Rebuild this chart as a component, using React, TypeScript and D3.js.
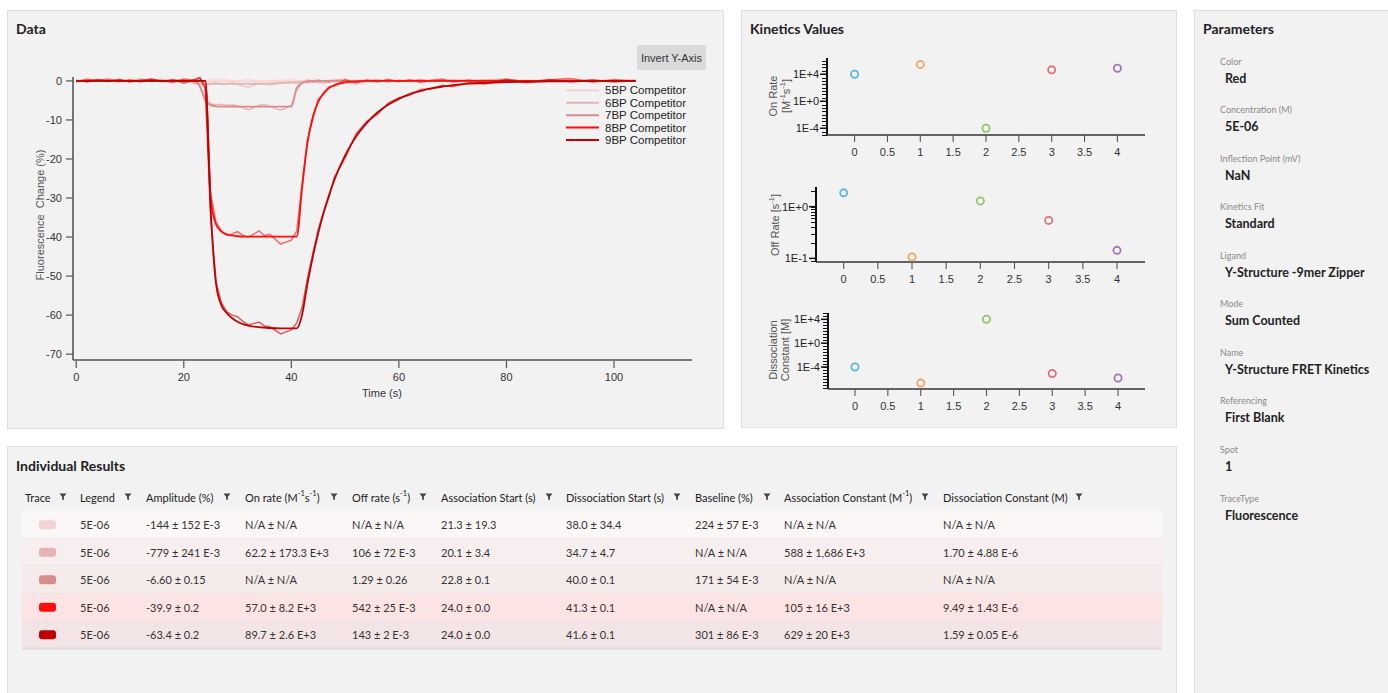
import React, { useEffect } from "react";
import * as d3 from "d3";

// ---------- Data panel: shared time base (s) and traces (% change)
const TIME = [0, 2, 4, 6, 8, 10, 12, 14, 16, 18, 20, 22, 23, 24, 25, 26, 27, 28, 29, 30, 31, 32, 34, 35, 36, 38, 40, 41, 42, 43, 44, 45, 46, 47, 48, 50, 52, 54, 56, 58, 60, 62, 64, 66, 68, 70, 73, 76, 80, 84, 88, 92, 96, 100, 104];

const TRACE_NAMES = ["5BP Competitor", "6BP Competitor", "7BP Competitor", "8BP Competitor", "9BP Competitor"];
const TRACE_COLORS = ["#f2d4d4", "#e6b3b3", "#d88c8c", "#ff0d0d", "#c00000"];

const RAW_5BP = [0.3, -0.2, 0.5, 0.1, -0.3, 0.4, 0.2, -0.1, 0.6, 0.0, 0.3, 0.2, 0.5, 0.1, 0.4, 0.2, 0.6, 0.3, 0.1, -0.2, 0.2, 0.4, 0.0, -0.3, 0.2, 0.1, 0.4, 0.2, -0.1, 0.3, 0.5, 0.1, -0.2, 0.3, 0.4, -0.1, 0.2, 0.5, 0.0, 0.3, -0.2, 0.4, 0.1, 0.3, -0.3, 0.2, 0.5, 0.0, 0.3, -0.2, 0.4, 0.1, 0.3, -0.1, 0.2];
const FIT_5BP = [0, 0, 0, 0, 0, 0, 0, 0, 0, 0, 0, -0.1, -0.12, -0.14, -0.14, -0.14, -0.14, -0.14, -0.14, -0.14, -0.14, -0.14, -0.14, -0.14, -0.14, -0.14, -0.05, -0.02, 0, 0, 0, 0, 0, 0, 0, 0, 0, 0, 0, 0, 0, 0, 0, 0, 0, 0, 0, 0, 0, 0, 0, 0, 0, 0, 0];

const RAW_6BP = [-0.1, 0.4, 0.2, -0.3, 0.3, 0.1, 0.5, -0.2, 0.2, 0.4, -0.1, -0.5, -0.9, -0.6, -0.8, -0.4, -0.9, -0.7, -0.5, -0.9, -1.3, -1.6, -0.6, -0.8, -1.1, -0.5, -0.3, -0.6, -0.2, -0.5, -0.1, -0.4, -0.7, -0.2, 0.1, -0.4, -0.8, -0.2, 0.2, -0.3, 0.1, -0.2, 0.3, -0.1, 0.2, -0.3, 0.1, 0.3, -0.2, 0.2, 0.0, 0.3, -0.2, 0.1, 0.2];
const FIT_6BP = [0, 0, 0, 0, 0, 0, 0, 0, 0, 0, 0, -0.6, -0.7, -0.75, -0.78, -0.78, -0.78, -0.78, -0.78, -0.78, -0.78, -0.78, -0.78, -0.76, -0.68, -0.55, -0.45, -0.4, -0.36, -0.33, -0.29, -0.26, -0.23, -0.21, -0.19, -0.15, -0.12, -0.1, -0.08, -0.06, -0.05, -0.04, -0.03, -0.02, 0, 0, 0, 0, 0, 0, 0, 0, 0, 0, 0];

const RAW_7BP = [0.2, -0.3, 0.4, 0.0, 0.3, -0.2, 0.5, 0.1, -0.1, 0.3, 0.2, -0.2, -1.2, -4.6, -5.9, -6.1, -6.0, -6.3, -6.1, -6.4, -6.9, -7.4, -6.3, -6.0, -6.6, -7.5, -6.3, -2.4, -0.6, 0.2, -0.3, 0.3, 0.0, -0.4, 0.2, 0.4, -0.2, 0.1, 0.3, -0.3, 0.2, 0.0, 0.4, -0.2, 0.1, 0.3, -0.1, 0.2, 0.5, -0.3, 0.1, 0.2, -0.2, 0.4, 0.0];
const FIT_7BP = [0, 0, 0, 0, 0, 0, 0, 0, 0, 0, 0, 0, -1.5, -5.0, -6.2, -6.5, -6.6, -6.6, -6.6, -6.6, -6.6, -6.6, -6.6, -6.6, -6.6, -6.6, -6.6, -1.8, -0.5, -0.1, 0, 0, 0, 0, 0, 0, 0, 0, 0, 0, 0, 0, 0, 0, 0, 0, 0, 0, 0, 0, 0, 0, 0, 0, 0];

const RAW_8BP = [-0.2, 0.4, 0.1, 0.5, -0.2, 0.3, -0.3, 0.4, 0.1, -0.4, 0.5, 0.2, 0.6, -1.5, -29, -36.2, -38.4, -39.5, -39.2, -38.6, -39.6, -40.0, -38.4, -39.6, -39.3, -41.8, -40.8, -38.5, -26.5, -15.0, -9.8, -4.6, -3.5, -1.5, -1.3, 0.3, -0.5, 0.2, -0.3, 0.4, -0.2, 0.3, -0.4, 0.2, 0.5, -0.3, 0.2, -0.5, 0.4, -0.2, 0.3, 0.6, -0.3, 0.2, -0.1];
const FIT_8BP = [0, 0, 0, 0, 0, 0, 0, 0, 0, 0, 0, 0, 0, 0, -30, -36.8, -38.6, -39.3, -39.6, -39.8, -39.9, -39.9, -39.9, -39.9, -39.9, -39.9, -39.9, -39.9, -27.3, -15.9, -9.2, -5.4, -3.1, -1.8, -1.1, -0.4, -0.1, 0, 0, 0, 0, 0, 0, 0, 0, 0, 0, 0, 0, 0, 0, 0, 0, 0, 0];

const RAW_9BP = [0.1, -0.2, 0.3, -0.1, 0.4, -0.3, 0.2, 0.5, -0.2, 0.3, -0.6, 0.4, 0.9, -2.0, -35, -51.5, -56.8, -59.2, -60.0, -60.4, -61.6, -62.5, -61.8, -62.8, -63.0, -64.8, -63.8, -62.0, -58.0, -50.5, -44.2, -38.0, -33.5, -29.8, -24.6, -19.8, -13.6, -10.4, -8.6, -5.7, -4.3, -3.7, -2.2, -2.1, -1.1, -1.5, -0.4, -0.8, 0.2, -0.5, 0.3, -0.2, 0.3, -0.3, 0.1];
const FIT_9BP = [0, 0, 0, 0, 0, 0, 0, 0, 0, 0, 0, 0, 0, 0, -33, -52, -57.5, -59.5, -60.8, -61.7, -62.3, -62.7, -63.1, -63.2, -63.3, -63.4, -63.4, -63.4, -59.9, -51.9, -45.0, -39.0, -33.8, -29.3, -25.4, -19.1, -14.3, -10.8, -8.1, -6.1, -4.6, -3.4, -2.6, -1.9, -1.5, -1.1, -0.7, -0.5, -0.3, -0.2, -0.1, -0.1, 0, 0, 0];

const RAW_TRACES = [RAW_5BP, RAW_6BP, RAW_7BP, RAW_8BP, RAW_9BP];
const FIT_TRACES = [FIT_5BP, FIT_6BP, FIT_7BP, FIT_8BP, FIT_9BP];

const DATA_Y_TICKS = [0, -10, -20, -30, -40, -50, -60, -70];
const DATA_X_TICKS = [0, 20, 40, 60, 80, 100];

// ---------- Kinetics values
const KIN_INDEX = [0, 1, 2, 3, 4];
const KIN_COLORS = ["#55b8ea", "#f5a45e", "#8cc765", "#e46f78", "#a673b6"];
const ON_RATE = [1.0e4, 2.8e5, 1e-4, 4.4e4, 7.7e4];
const OFF_RATE = [1.85, 0.106, 1.29, 0.542, 0.143];
const DISS_CONST = [1e-4, 2e-7, 1e4, 8e-6, 1.4e-6];
const KIN_X_TICKS = [0, 0.5, 1, 1.5, 2, 2.5, 3, 3.5, 4];

// ---------- Parameters
const PARAM_LABELS = ["Color", "Concentration (M)", "Inflection Point (mV)", "Kinetics Fit", "Ligand", "Mode", "Name", "Referencing", "Spot", "TraceType"];
const PARAM_VALUES = ["Red", "5E-06", "NaN", "Standard", "Y-Structure -9mer Zipper", "Sum Counted", "Y-Structure FRET Kinetics", "First Blank", "1", "Fluorescence"];

// ---------- Individual results table
type Seg = [string, boolean];
const COLUMN_TITLES: Seg[][] = [
  [["Trace", false]],
  [["Legend", false]],
  [["Amplitude (%)", false]],
  [["On rate (M", false], ["-1", true], ["s", false], ["-1", true], [")", false]],
  [["Off rate (s", false], ["-1", true], [")", false]],
  [["Association Start (s)", false]],
  [["Dissociation Start (s)", false]],
  [["Baseline (%)", false]],
  [["Association Constant (M", false], ["-1", true], [")", false]],
  [["Dissociation Constant (M)", false]],
];
const LEGEND_COL = ["5E-06", "5E-06", "5E-06", "5E-06", "5E-06"];
const AMPLITUDE = ["-144 ± 152 E-3", "-779 ± 241 E-3", "-6.60 ± 0.15", "-39.9 ± 0.2", "-63.4 ± 0.2"];
const ON_RATE_TXT = ["N/A ± N/A", "62.2 ± 173.3 E+3", "N/A ± N/A", "57.0 ± 8.2 E+3", "89.7 ± 2.6 E+3"];
const OFF_RATE_TXT = ["N/A ± N/A", "106 ± 72 E-3", "1.29 ± 0.26", "542 ± 25 E-3", "143 ± 2 E-3"];
const ASSOC_START = ["21.3 ± 19.3", "20.1 ± 3.4", "22.8 ± 0.1", "24.0 ± 0.0", "24.0 ± 0.0"];
const DISSOC_START = ["38.0 ± 34.4", "34.7 ± 4.7", "40.0 ± 0.1", "41.3 ± 0.1", "41.6 ± 0.1"];
const BASELINE = ["224 ± 57 E-3", "N/A ± N/A", "171 ± 54 E-3", "N/A ± N/A", "301 ± 86 E-3"];
const ASSOC_CONST = ["N/A ± N/A", "588 ± 1,686 E+3", "N/A ± N/A", "105 ± 16 E+3", "629 ± 20 E+3"];
const DISSOC_CONST = ["N/A ± N/A", "1.70 ± 4.88 E-6", "N/A ± N/A", "9.49 ± 1.43 E-6", "1.59 ± 0.05 E-6"];
const ROW_BG = ["#fbf7f7", "#f7efef", "#f5ebeb", "#fde4e4", "#f3e5e5"];

const UI = "Lato, 'Open Sans', sans-serif";
const PLOT = "'Liberation Sans', Arial, sans-serif";

const supSpans = (parts: Seg[], size: number) => {
  let raised = false;
  return parts.map(([t, sup], i) => {
    let dy = 0;
    if (sup && !raised) { dy = -size * 0.4; raised = true; }
    else if (!sup && raised) { dy = size * 0.4; raised = false; }
    return <tspan key={i} dy={dy} fontSize={sup ? size * 0.68 : size}>{t}</tspan>;
  });
};

const funnel = (cx: number, cy: number) =>
  `M${cx - 3.5},${cy - 3.5} h7 l-2.6,3.2 v3.6 l-1.8,-1 v-2.6 z`;

const logLabel = (v: number) => {
  const e = Math.round(Math.log10(v));
  return `1E${e >= 0 ? "+" : ""}${e}`;
};

const Panel = ({ x, y, w, h }: { x: number; y: number; w: number; h: number }) => (
  <rect x={x + 0.5} y={y + 0.5} width={w} height={h} fill="#f2f2f2" stroke="#dedede" />
);

const DataChart = () => {
  const x = d3.scaleLinear().domain([-0.6, 114.5]).range([73, 692]);
  const y = d3.scaleLinear().domain([-71.5, 1]).range([360, 77]);
  const raw = d3.line<number>().x((_, i) => x(TIME[i])).y(d => y(d));
  const fit = d3.line<number>().x((_, i) => x(TIME[i])).y(d => y(d)).curve(d3.curveMonotoneX);
  const legendY = d3.scalePoint<string>().domain(TRACE_NAMES).range([90.3, 140]);
  return (
    <g>
      <text x={16} y={28} fontFamily={UI} fontSize={14} fontWeight={700} fill="#222" dominantBaseline="central">Data</text>
      {/* axes */}
      <line x1={73} x2={73} y1={77} y2={360} stroke="#555" strokeWidth={1.6} />
      <line x1={73} x2={692} y1={360} y2={360} stroke="#555" strokeWidth={1.6} />
      {DATA_Y_TICKS.map(t => (
        <g key={t}>
          <line x1={66} x2={73} y1={y(t)} y2={y(t)} stroke="#555" strokeWidth={1.2} />
          <text x={62} y={y(t)} textAnchor="end" dominantBaseline="central" fontFamily={PLOT} fontSize={11} fill="#333">{t}</text>
        </g>
      ))}
      {DATA_X_TICKS.map(t => (
        <g key={t}>
          <line x1={x(t)} x2={x(t)} y1={361} y2={368} stroke="#555" strokeWidth={1.2} />
          <text x={x(t)} y={377} textAnchor="middle" dominantBaseline="central" fontFamily={PLOT} fontSize={11} fill="#333">{t}</text>
        </g>
      ))}
      <text x={382} y={393} textAnchor="middle" dominantBaseline="central" fontFamily={PLOT} fontSize={11} fill="#333">Time (s)</text>
      <text transform="translate(40,215) rotate(-90)" textAnchor="middle" dominantBaseline="central" fontFamily={PLOT} fontSize={11} fill="#555" xmlSpace="preserve">Fluorescence  Change (%)</text>
      {/* traces */}
      {RAW_TRACES.map((r, i) => (
        <g key={i}>
          <path d={raw(r) || ""} fill="none" stroke={TRACE_COLORS[i]} strokeOpacity={0.6} strokeWidth={1.5} />
          <path d={fit(FIT_TRACES[i]) || ""} fill="none" stroke={TRACE_COLORS[i]} strokeWidth={1.8} />
        </g>
      ))}
      {/* button */}
      <rect x={637} y={45} width={69} height={25} fill="#dadada" />
      <text x={671.5} y={58} textAnchor="middle" dominantBaseline="central" fontFamily={PLOT} fontSize={11} fill="#333">Invert Y-Axis</text>
      {/* legend */}
      {TRACE_NAMES.map((n, i) => (
        <g key={n}>
          <line x1={566} x2={599} y1={legendY(n)} y2={legendY(n)} stroke={TRACE_COLORS[i]} strokeWidth={2} />
          <text x={605} y={legendY(n)} dominantBaseline="central" fontFamily={PLOT} fontSize={11.5} fill="#222">{n}</text>
        </g>
      ))}
    </g>
  );
};

type KinCfg = {
  values: number[]; x0: number; xDomain: [number, number]; yTop: number; yBot: number;
  yDomain: [number, number]; labels: number[]; minor: "half" | "log";
  title: Seg[][]; titleX: number[]; titleY: number;
};

const KIN_PANELS: KinCfg[] = [
  {
    values: ON_RATE, x0: 827, xDomain: [-0.42, 4.42], yTop: 58, yBot: 135,
    yDomain: [1e-5, Math.pow(10, 6.4)], labels: [1e4, 1, 1e-4], minor: "half",
    title: [[["On Rate", false]], [["[M", false], ["-1", true], ["s", false], ["-1", true], ["]", false]]],
    titleX: [773, 786], titleY: 96,
  },
  {
    values: OFF_RATE, x0: 816, xDomain: [-0.405, 4.41], yTop: 187, yBot: 262,
    yDomain: [Math.pow(10, -1.07), Math.pow(10, 0.38)], labels: [1, 0.1], minor: "log",
    title: [[["Off Rate [s", false], ["-1", true], ["]", false]]],
    titleX: [775], titleY: 225,
  },
  {
    values: DISS_CONST, x0: 828, xDomain: [-0.41, 4.41], yTop: 313, yBot: 389,
    yDomain: [Math.pow(10, -7.69), Math.pow(10, 5.06)], labels: [1e4, 1, 1e-4], minor: "half",
    title: [[["Dissociation", false]], [["Constant [M]", false]]],
    titleX: [773, 785], titleY: 350,
  },
];

const KinChart = ({ c }: { c: KinCfg }) => {
  const kx = d3.scaleLinear().domain(c.xDomain).range([c.x0, 1145]);
  const ky = d3.scaleLog().domain(c.yDomain).range([c.yBot, c.yTop]);
  const lo = Math.log10(c.yDomain[0]);
  const hi = Math.log10(c.yDomain[1]);
  let minor: number[] = [];
  if (c.minor === "half") {
    minor = d3.range(Math.ceil(lo * 2), Math.floor(hi * 2) + 1).map(k => Math.pow(10, k / 2));
  } else {
    d3.range(Math.floor(lo), Math.ceil(hi) + 1).forEach(e => {
      for (let m = 1; m <= 9; m++) {
        const v = m * Math.pow(10, e);
        if (v >= c.yDomain[0] && v <= c.yDomain[1]) minor.push(v);
      }
    });
  }
  return (
    <g>
      {minor.map((v, i) => (
        <line key={i} x1={c.x0 - 5} x2={c.x0} y1={Math.round(ky(v)) + 0.5} y2={Math.round(ky(v)) + 0.5} stroke="#111" strokeWidth={1} shapeRendering="crispEdges" />
      ))}
      {c.labels.map(v => (
        <g key={v}>
          <line x1={c.x0 - 7} x2={c.x0} y1={ky(v)} y2={ky(v)} stroke="#111" strokeWidth={1.5} />
          <text x={c.x0 - 8} y={ky(v)} textAnchor="end" dominantBaseline="central" fontFamily={PLOT} fontSize={11} fill="#222">{logLabel(v)}</text>
        </g>
      ))}
      <line x1={c.x0} x2={c.x0} y1={c.yTop} y2={c.yBot} stroke="#111" strokeWidth={2} />
      <line x1={c.x0} x2={1145} y1={c.yBot} y2={c.yBot} stroke="#333" strokeWidth={1.4} />
      {KIN_X_TICKS.map(t => (
        <g key={t}>
          <line x1={kx(t)} x2={kx(t)} y1={c.yBot} y2={c.yBot + 7} stroke="#555" strokeWidth={1.1} />
          <text x={kx(t)} y={c.yBot + 16.5} textAnchor="middle" dominantBaseline="central" fontFamily={PLOT} fontSize={11} fill="#333">{t}</text>
        </g>
      ))}
      {c.title.map((segs, i) => (
        <text key={i} transform={`translate(${c.titleX[i]},${c.titleY}) rotate(-90)`} textAnchor="middle" dominantBaseline="central" fontFamily={PLOT} fontSize={11} fill="#555">
          {supSpans(segs, 11)}
        </text>
      ))}
      {KIN_INDEX.map(i => (
        <circle key={i} cx={kx(i)} cy={ky(c.values[i])} r={3.6} fill="#f6f6f6" stroke={KIN_COLORS[i]} strokeWidth={1.8} />
      ))}
    </g>
  );
};

const ParamsPanel = () => {
  const py = d3.scaleLinear().domain([0, 9]).range([0, 437]);
  return (
    <g>
      <text x={1203} y={28} fontFamily={UI} fontSize={14} fontWeight={700} fill="#222" dominantBaseline="central">Parameters</text>
      {PARAM_LABELS.map((l, i) => (
        <g key={l}>
          <text x={1220} y={61 + py(i)} dominantBaseline="central" fontFamily={UI} fontSize={9} fill="#8a8a8a">{l}</text>
          <text x={1225} y={78 + py(i)} dominantBaseline="central" fontFamily={UI} fontSize={12.5} fontWeight={700} fill="#222">{PARAM_VALUES[i]}</text>
        </g>
      ))}
    </g>
  );
};

const ResultsTable = () => {
  const colX = [25, 80, 146, 245, 352, 441, 566, 695, 784, 943];
  const iconX = [63, 128, 227, 334, 423, 549, 677, 767, 925, 1079];
  const rows = d3.scaleBand<number>().domain(d3.range(5)).range([511, 648.5]);
  const cells = [LEGEND_COL, AMPLITUDE, ON_RATE_TXT, OFF_RATE_TXT, ASSOC_START, DISSOC_START, BASELINE, ASSOC_CONST, DISSOC_CONST];
  return (
    <g>
      <text x={16} y={465} fontFamily={UI} fontSize={14} fontWeight={700} fill="#222" dominantBaseline="central">Individual Results</text>
      {COLUMN_TITLES.map((segs, i) => (
        <g key={i}>
          <text x={colX[i]} y={497} dominantBaseline="central" fontFamily={UI} fontSize={11} fill="#222">{supSpans(segs, 11)}</text>
          <path d={funnel(iconX[i], 497)} fill="#444" />
        </g>
      ))}
      {d3.range(5).map(r => {
        const y0 = rows(r) as number;
        const h = rows.bandwidth();
        const cy = y0 + h / 2;
        return (
          <g key={r}>
            <rect x={22} y={y0} width={1140} height={h} fill={ROW_BG[r]} />
            <line x1={22} x2={1162} y1={y0 + h} y2={y0 + h} stroke="#dcdcdc" strokeWidth={r === 4 ? 2 : 1} />
            <rect x={39} y={cy - 4.5} width={17} height={9} rx={3} fill={TRACE_COLORS[r]} />
            {cells.map((col, k) => (
              <text key={k} x={colX[k + 1]} y={cy} dominantBaseline="central" fontFamily={UI} fontSize={11} fill="#333">{col[r]}</text>
            ))}
          </g>
        );
      })}
    </g>
  );
};

export default function App() {
  useEffect(() => {
    document.body.style.margin = "0";
  }, []);
  return (
    <div style={{ position: "absolute", left: 0, top: 0, background: "#fff" }}>
      <svg width={1388} height={693} style={{ display: "block" }}>
        <rect width={1388} height={693} fill="#fff" />
        <Panel x={7} y={10} w={716} h={418} />
        <Panel x={741} y={10} w={435} h={417} />
        <Panel x={1194} y={10} w={200} h={690} />
        <Panel x={7} y={446} w={1169} h={260} />
        <DataChart />
        <text x={750} y={28} fontFamily={UI} fontSize={14} fontWeight={700} fill="#222" dominantBaseline="central">Kinetics Values</text>
        {KIN_PANELS.map((c, i) => <KinChart key={i} c={c} />)}
        <ParamsPanel />
        <ResultsTable />
      </svg>
    </div>
  );
}
